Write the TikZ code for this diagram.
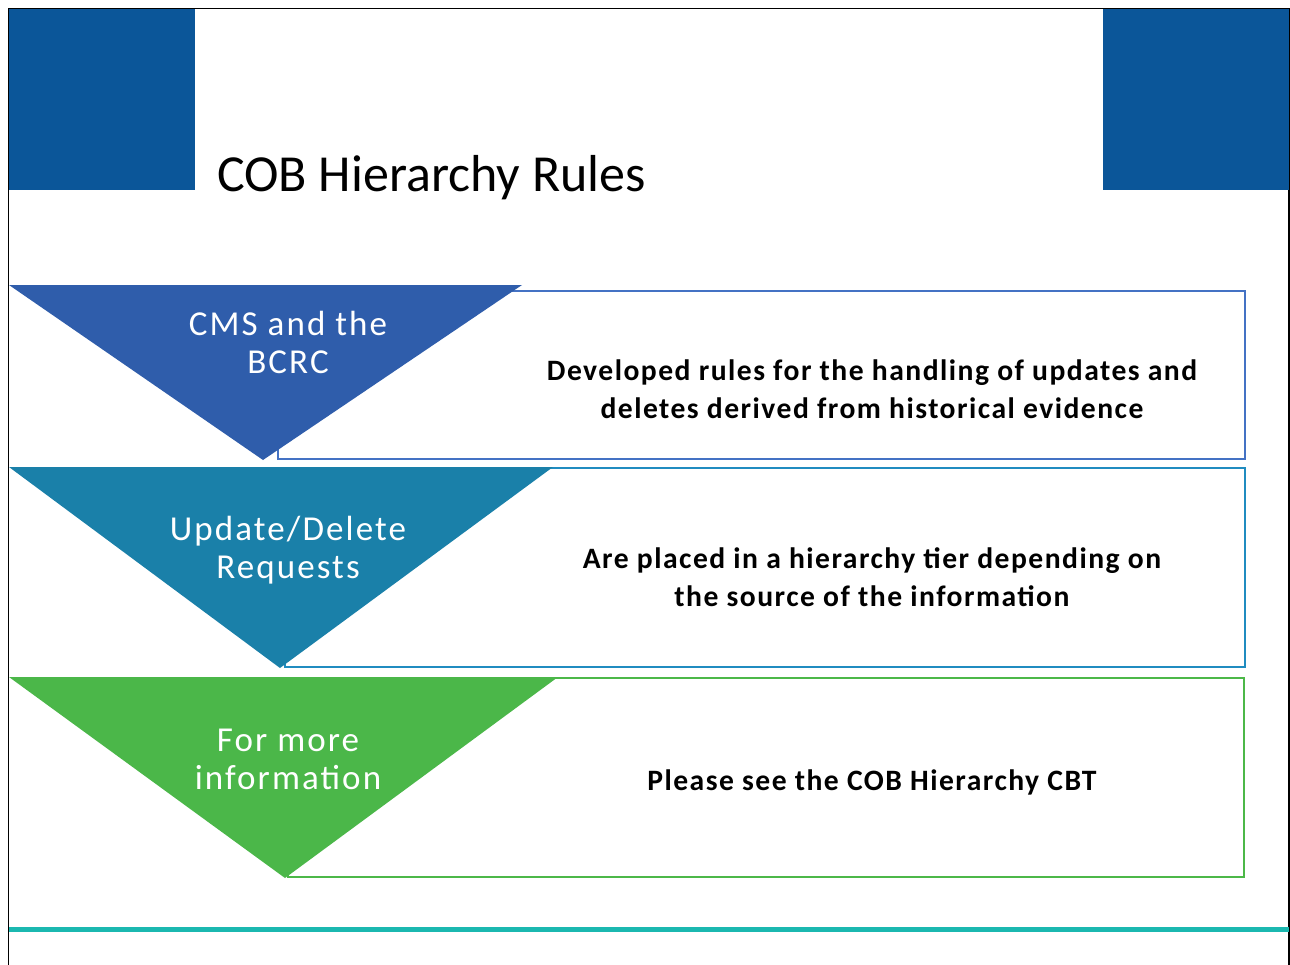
\documentclass[tikz,border=0pt]{standalone}
\usepackage{fontspec}
\setmainfont{Carlito}
\newfontfamily\leftspaced[LetterSpace=6]{Carlito}
\newfontfamily\rightspaced[LetterSpace=5]{Carlito}
\definecolor{hdrblue}{RGB}{11,86,153}
\definecolor{triA}{RGB}{47,93,171}
\definecolor{boxA}{RGB}{68,114,196}
\definecolor{triB}{RGB}{26,128,169}
\definecolor{boxB}{RGB}{32,140,192}
\definecolor{triC}{RGB}{75,183,73}
\definecolor{boxC}{RGB}{76,184,72}
\definecolor{rulecol}{RGB}{27,184,176}
\tikzset{
  outlinebox/.style={line width=2pt},
  lefttext/.style={text=white, align=center, font=\leftspaced\fontsize{35}{38}\selectfont},
  righttext/.style={text=black, align=center, font=\rightspaced\bfseries\fontsize{29.6}{38}\selectfont},
}
\begin{document}
\begin{tikzpicture}[x=1pt,y=-1pt]
\useasboundingbox (0,0) rectangle (1290,964);
\fill[white] (0,0) rectangle (1290,964);
% frame
\draw[black, line width=1.2pt] (8.5,970) -- (8.5,8.5) -- (1289,8.5) -- (1289,970);
% header blocks
\fill[hdrblue] (9,9) rectangle (195,190);
\fill[hdrblue] (1103,9) rectangle (1289,190);
\node[anchor=base west, inner sep=0pt, font=\fontsize{52}{60}\selectfont] (title) at (217,191) {COB Hierarchy Rules};
% row 1
\draw[boxA, outlinebox] (278,291) rectangle (1245,459);
\fill[triA] (9,285) -- (522,285) -- (263,460) -- cycle;
\node[lefttext] (l1) at (288,342) {CMS and the\\BCRC};
\node[righttext] (r1) at (872,389) {Developed rules for the handling of updates and\\deletes derived from historical evidence};
% row 2
\draw[boxB, outlinebox] (285,468) rectangle (1245,667);
\fill[triB] (9,467) -- (553,467) -- (280,668) -- cycle;
\node[lefttext] (l2) at (288,550) {Update/Delete\\Requests};
\node[righttext] (r2) at (872,577) {Are placed in a hierarchy tier depending on\\the source of the information};
% row 3
\draw[boxC, outlinebox] (288,678) rectangle (1244,877);
\fill[triC] (9,677) -- (558,677) -- (285,878) -- cycle;
\node[lefttext] (l3) at (288,759) {For more\\information};
\node[righttext] (r3) at (872,782) {Please see the COB Hierarchy CBT};
% bottom rule
\draw[rulecol, line width=5pt] (9,929) -- (1289,929);
\end{tikzpicture}
\end{document}
